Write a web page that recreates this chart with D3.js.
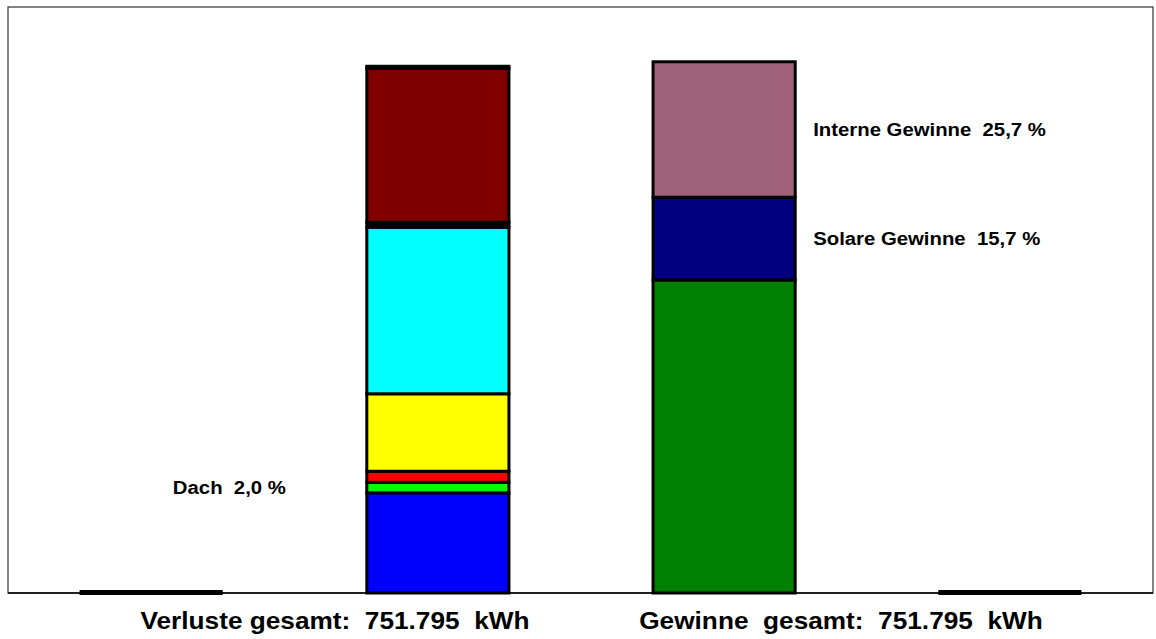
<!DOCTYPE html>
<html><head><meta charset="utf-8">
<script src="https://cdn.jsdelivr.net/npm/d3@7"></script>
<style>body{margin:0;background:#fff}svg{display:block}text{font-family:"Liberation Sans",Arial,sans-serif;font-weight:bold;white-space:pre}</style>
</head><body><svg id="c" width="1156" height="639"></svg>
<script>
// categories on the x axis (outer two are empty slots)
const categories = ["leer1", "Verluste", "Gewinne", "leer2"];
// Verluste segments, bottom to top, in % of total
const lossNames  = ["Verlust A", "Dach", "Verlust C", "Verlust D", "Verlust E", "Verlust F", "Verlust G", "Verlust H"];
const lossValues = [19.0, 2.0, 2.1, 14.7, 31.6, 0.95, 29.2, 0.4];
const lossColors = ["#0000FF", "#00FF00", "#FF0000", "#FFFF00", "#00FFFF", "#000000", "#800000", "#000000"];
// Gewinne segments, bottom to top, in % of total
const gainNames  = ["Heizwärme", "Solare Gewinne", "Interne Gewinne"];
const gainValues = [59.4, 15.7, 25.7];
const gainColors = ["#008000", "#000080", "#A0637A"];
// labels
const segLabels = [
  {bar: "Verluste", name: "Dach", text: "Dach  2,0 %", side: "left"},
  {bar: "Gewinne", name: "Solare Gewinne", text: "Solare Gewinne  15,7 %", side: "right"},
  {bar: "Gewinne", name: "Interne Gewinne", text: "Interne Gewinne  25,7 %", side: "right"}
];
const totalLabels = ["Verluste gesamt:  751.795  kWh", "Gewinne  gesamt:  751.795  kWh"];

const svg = d3.select("#c");
const L = 8, R = 1153, T = 7, B = 593;
const x = d3.scaleBand().domain(categories).range([L, R]).paddingInner(0.5).paddingOuter(0.25);
const y = d3.scaleLinear().domain([0, 100]).range([B, 66]);

function stackOf(names, vals, cols, bar) {
  let acc = 0;
  return vals.map((v, i) => { const s = {bar, name: names[i], y0: acc, y1: acc + v, color: cols[i]}; acc += v; return s; });
}
const segs = stackOf(lossNames, lossValues, lossColors, "Verluste").concat(stackOf(gainNames, gainValues, gainColors, "Gewinne"));

// frame
svg.append("rect").attr("x", L).attr("y", T).attr("width", R - L).attr("height", B - T)
  .attr("fill", "none").attr("stroke", "#333").attr("stroke-width", 1.2);

svg.selectAll("rect.seg").data(segs).join("rect").attr("class", "seg")
  .attr("x", d => x(d.bar) + 1).attr("width", x.bandwidth() - 1)
  .attr("y", d => y(d.y1)).attr("height", d => y(d.y0) - y(d.y1))
  .attr("fill", d => d.color).attr("stroke", "#000").attr("stroke-width", 3);

// empty categories: zero-height bars drawn as thick baseline marks
svg.selectAll("rect.zero").data(["leer1", "leer2"]).join("rect").attr("class", "zero")
  .attr("x", d => x(d)).attr("width", x.bandwidth()).attr("y", y(0) - 3).attr("height", 5).attr("fill", "#000");

// baseline
svg.append("line").attr("x1", L).attr("x2", R).attr("y1", B).attr("y2", B).attr("stroke", "#000").attr("stroke-width", 1.5);

// horizontally widened bold text, anchored at (ax, ay)
function wideText(ax, ay, size, sx, anchor, str) {
  return svg.append("g").attr("transform", `translate(${ax},${ay}) scale(${sx},1)`)
    .append("text").attr("font-size", size).attr("text-anchor", anchor).text(str);
}

// segment labels
segLabels.forEach(l => {
  const s = segs.find(d => d.bar === l.bar && d.name === l.name);
  const cy = y((s.y0 + s.y1) / 2) + 6.5;
  if (l.side === "right") wideText(x(l.bar) + x.bandwidth() + 18, cy, 18, 1.13, "start", l.text);
  else wideText(x(l.bar) - 80, cy, 18, 1.13, "end", l.text);
});

// totals
wideText(335, 629, 23, 1.14, "middle", totalLabels[0]);
wideText(841, 629, 23, 1.14, "middle", totalLabels[1]);
</script></body></html>
